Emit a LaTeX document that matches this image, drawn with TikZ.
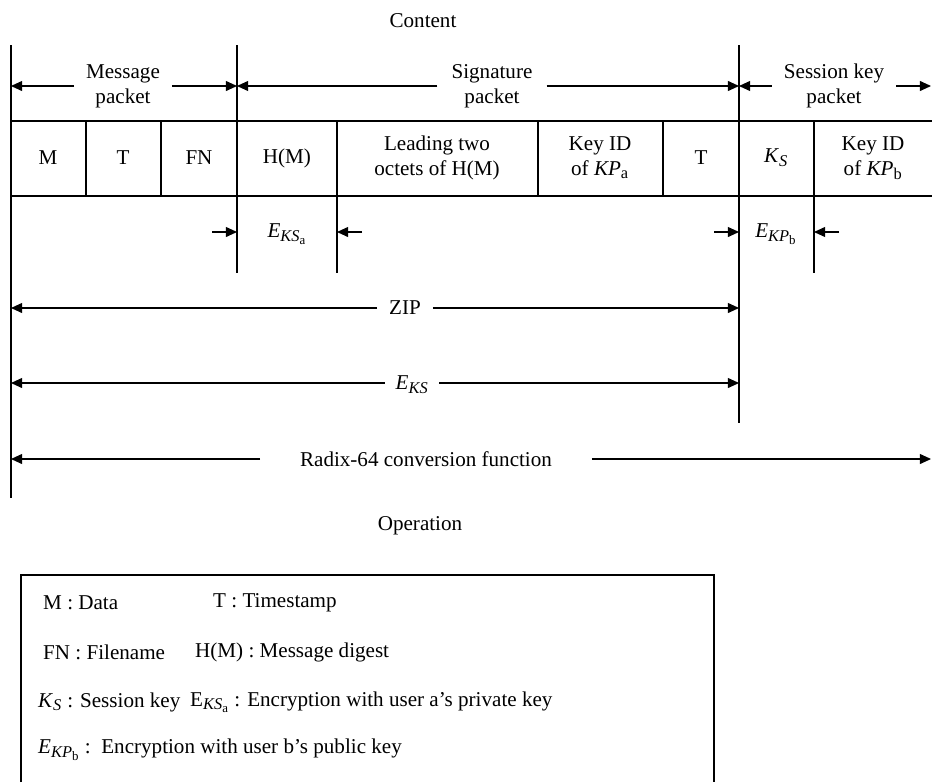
\documentclass[tikz,border=0pt]{standalone}
\usepackage{amsmath}
\usepackage{fontspec}
\setmainfont{Liberation Serif}
\DeclareMathSizes{18}{18}{14}{11}
\usepackage{tikz}
\usetikzlibrary{calc, positioning, arrows.meta}

\begin{document}
\begin{tikzpicture}[
  x=0.03cm, y=-0.03cm,
  font=\fontsize{18}{21.5}\selectfont,
  lbl/.style={align=center, inner ysep=0pt, inner xsep=#1},
  lbl/.default=0pt,
  key/.style={anchor=west, inner sep=0pt},
  rule/.style={line width=1pt},
  arr/.style={rule, -{Triangle[length=9.5pt, width=8.5pt]}}
]
  \useasboundingbox (0,0) rectangle (932,782);

  % column lines
  \coordinate (v0) at (11,45);
  \coordinate (v3) at (237,45);
  \coordinate (v4) at (337,121);
  \coordinate (v7) at (739,45);
  \coordinate (v8) at (814,121);
  \coordinate (edge) at (931,45);
  \draw[rule] (v0) -- ++(0,453);
  \draw[rule] (v3) -- ++(0,228);
  \draw[rule] (v7) -- ++(0,378);
  \draw[rule] (v4) -- ++(0,152);
  \draw[rule] (v8) -- ++(0,152);
  \draw[rule] (11,121) -- (932,121) (11,196) -- (932,196);
  \foreach \x in {86,161,538,663}
    \draw[rule] (\x,121) -- (\x,196);

  \node[lbl] (content) at (423,21) {Content};

  % packets
  \node[lbl=10pt] (msg) at (123,86) {Message\\packet};
  \node[lbl=12pt] (sig) at (492,86) {Signature\\packet};
  \node[lbl=10pt] (ses) at (834,86) {Session key\\packet};
  \draw[arr] (msg.west) -- (msg.west -| v0);
  \draw[arr] (msg.east) -- (msg.east -| v3);
  \draw[arr] (sig.west) -- (sig.west -| v3);
  \draw[arr] (sig.east) -- (sig.east -| v7);
  \draw[arr] (ses.west) -- (ses.west -| v7);
  \draw[arr] (ses.east) -- (ses.east -| edge);

  % fields
  \node[lbl] (m)    at (48,158)  {M};
  \node[lbl] (t1)   at (123,158) {T};
  \node[lbl] (fn)   at (199,158) {FN};
  \node[lbl] (hm)   at (287,158) {H(M)};
  \node[lbl] (lead) at (437,158) {Leading two\\octets of H(M)};
  \node[lbl] (kida) at (600,158) {Key ID\\of \textit{KP}$_{\textrm{a}}$};
  \node[lbl] (t2)   at (701,158) {T};
  \node[lbl] (ks)   at (776,158) {\textit{K}$_{\textit{S}}$};
  \node[lbl] (kidb) at (873,158) {Key ID\\of \textit{KP}$_{\textrm{b}}$};

  % signing and session key encryption
  \node[lbl] (eksa) at (287,234) {$\textit{E}_{\textit{KS}_{\textrm{a}}}$};
  \node[lbl] (ekpb) at (776,234) {$\textit{E}_{\textit{KP}_{\textrm{b}}}$};
  \draw[arr] ($(eksa -| v3)+(-25,-2)$) -- ($(eksa -| v3)+(0,-2)$);
  \draw[arr] ($(eksa -| v4)+(25,-2)$) -- ($(eksa -| v4)+(0,-2)$);
  \draw[arr] ($(ekpb -| v7)+(-25,-2)$) -- ($(ekpb -| v7)+(0,-2)$);
  \draw[arr] ($(ekpb -| v8)+(25,-2)$) -- ($(ekpb -| v8)+(0,-2)$);

  % operations over the whole
  \node[lbl=10pt] (zip) at (405,308) {ZIP};
  \draw[arr] (zip.west) -- (zip.west -| v0);
  \draw[arr] (zip.east) -- (zip.east -| v7);
  \node[lbl=9pt] (eks) at (412,385) {$\textit{E}_{\textit{KS}}$};
  \draw[arr] ($(eks.west)+(0,-2)$) -- ($(eks.west -| v0)+(0,-2)$);
  \draw[arr] ($(eks.east)+(0,-2)$) -- ($(eks.east -| v7)+(0,-2)$);
  \node[lbl=34pt] (radix) at (426,459) {Radix-64 conversion function};
  \draw[arr] (radix.west) -- (radix.west -| v0);
  \draw[arr] (radix.east) -- (radix.east -| edge);

  \node[lbl] (oper) at (420,526) {Operation};

  % legend
  \draw[rule] (21,782) -- (21,575) -- (714,575) -- (714,782);
  \node[key] (kM)  at (43,603)  {M : Data};
  \node[key] (kT)  at (213,603) {T : Timestamp};
  \node[key] (kFN) at (43,652)  {FN : Filename};
  \node[key] (kH)  at (195,652) {H(M) : Message digest};
  \node[key] (kK)  at (38,702)  {\textit{K}$_{\textit{S}}$ : Session key};
  \node[key] (kEa) at (190,702) {E$_{\textit{KS}_{\textrm{a}}}$ : Encryption with user a's private key};
  \node[key] (kEb) at (38,750)  {$\textit{E}_{\textit{KP}_{\textrm{b}}}$ :\ \ Encryption with user b's public key};
\end{tikzpicture}
\end{document}
